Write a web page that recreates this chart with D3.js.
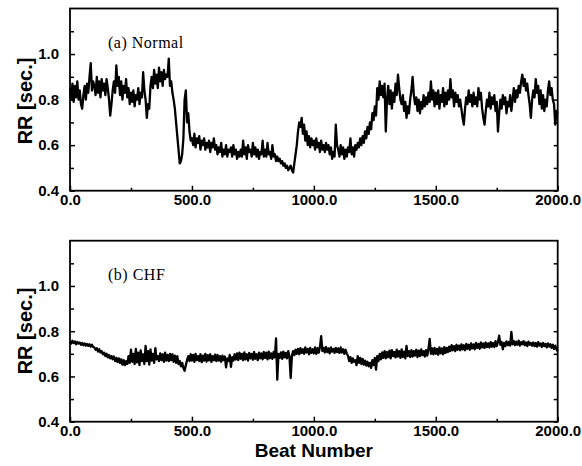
<!DOCTYPE html>
<html>
<head>
<meta charset="utf-8">
<script src="https://cdn.jsdelivr.net/npm/d3@7"></script>
<style>
  body { margin: 0; background: #fff; }
  svg { display: block; }
</style>
</head>
<body>
<svg id="chart" width="582" height="466"></svg>
<script>
// RR intervals (seconds), one sample every `beatStep` beats, beats 0..2000
const beatStep = 5;

const normalRR = [
  0.85,0.80,0.87,0.79,0.86,0.81,0.88,0.80,0.84,0.78,0.76,0.82,0.86,0.80,0.87,0.83,0.90,0.96,0.84,0.88,
  0.86,0.82,0.90,0.83,0.88,0.81,0.89,0.84,0.87,0.82,0.89,0.85,0.80,0.73,0.78,0.84,0.88,0.83,0.95,0.86,
  0.90,0.82,0.88,0.80,0.86,0.83,0.89,0.81,0.85,0.78,0.83,0.79,0.84,0.77,0.82,0.80,0.85,0.78,0.83,0.81,
  0.92,0.84,0.80,0.72,0.78,0.76,0.86,0.90,0.85,0.93,0.87,0.91,0.85,0.94,0.88,0.92,0.86,0.93,0.89,0.91,
  0.90,0.98,0.86,0.88,0.83,0.80,0.76,0.70,0.64,0.58,0.52,0.53,0.56,0.63,0.80,0.84,0.70,0.74,0.66,0.62,
  0.63,0.60,0.65,0.59,0.63,0.61,0.64,0.58,0.62,0.60,0.63,0.58,0.61,0.59,0.62,0.57,0.61,0.59,0.63,0.58,
  0.60,0.56,0.59,0.57,0.61,0.55,0.58,0.56,0.60,0.55,0.58,0.57,0.59,0.55,0.60,0.56,0.58,0.54,0.57,0.55,
  0.58,0.55,0.62,0.56,0.59,0.54,0.60,0.57,0.58,0.55,0.61,0.56,0.59,0.55,0.58,0.54,0.57,0.56,0.62,0.55,
  0.58,0.55,0.61,0.56,0.57,0.54,0.60,0.55,0.56,0.53,0.55,0.53,0.54,0.52,0.53,0.51,0.52,0.50,0.51,0.49,
  0.50,0.51,0.49,0.48,0.52,0.56,0.60,0.66,0.70,0.68,0.72,0.65,0.69,0.62,0.66,0.60,0.64,0.59,0.63,0.60,
  0.62,0.58,0.63,0.59,0.61,0.57,0.62,0.58,0.60,0.57,0.61,0.58,0.60,0.56,0.59,0.54,0.57,0.55,0.69,0.60,
  0.58,0.55,0.60,0.56,0.59,0.54,0.58,0.55,0.59,0.57,0.63,0.56,0.59,0.55,0.60,0.58,0.61,0.59,0.63,0.60,
  0.64,0.61,0.66,0.63,0.68,0.65,0.70,0.67,0.74,0.71,0.77,0.73,0.85,0.80,0.88,0.82,0.86,0.81,0.87,0.66,
  0.80,0.86,0.78,0.84,0.76,0.83,0.79,0.87,0.82,0.91,0.85,0.80,0.78,0.82,0.75,0.79,0.72,0.77,0.74,0.80,
  0.84,0.90,0.82,0.78,0.81,0.75,0.80,0.74,0.79,0.76,0.82,0.77,0.81,0.78,0.83,0.79,0.88,0.80,0.84,0.77,
  0.83,0.78,0.84,0.76,0.82,0.79,0.85,0.77,0.83,0.78,0.84,0.80,0.89,0.81,0.84,0.77,0.83,0.79,0.82,0.77,
  0.80,0.76,0.72,0.69,0.76,0.81,0.78,0.84,0.79,0.82,0.77,0.83,0.78,0.81,0.77,0.85,0.80,0.83,0.76,0.72,
  0.69,0.75,0.80,0.77,0.83,0.76,0.81,0.78,0.82,0.75,0.79,0.66,0.74,0.80,0.76,0.82,0.78,0.81,0.74,0.79,
  0.77,0.82,0.75,0.80,0.85,0.79,0.84,0.81,0.86,0.83,0.88,0.91,0.86,0.89,0.84,0.87,0.82,0.78,0.72,0.80,
  0.84,0.81,0.89,0.83,0.86,0.78,0.84,0.76,0.82,0.75,0.80,0.77,0.84,0.88,0.82,0.85,0.80,0.78,0.69,0.75,0.74
];

const chfRR = [
  0.755,0.745,0.758,0.748,0.755,0.742,0.752,0.745,0.750,0.740,0.748,0.738,0.746,0.736,0.744,0.735,0.742,0.732,0.740,0.730,
  0.728,0.718,0.725,0.710,0.720,0.706,0.712,0.698,0.705,0.690,0.700,0.684,0.695,0.680,0.690,0.676,0.688,0.668,0.682,0.664,
  0.680,0.660,0.676,0.652,0.672,0.650,0.668,0.655,0.690,0.660,0.718,0.665,0.700,0.655,0.722,0.662,0.705,0.650,0.715,0.668,
  0.698,0.655,0.735,0.668,0.712,0.652,0.720,0.670,0.700,0.660,0.725,0.675,0.690,0.668,0.702,0.672,0.698,0.665,0.705,0.670,
  0.695,0.668,0.700,0.672,0.698,0.665,0.692,0.660,0.690,0.655,0.668,0.645,0.660,0.638,0.625,0.650,0.672,0.690,0.668,0.698,
  0.670,0.695,0.665,0.700,0.672,0.690,0.668,0.698,0.663,0.692,0.670,0.700,0.666,0.694,0.671,0.698,0.664,0.690,0.672,0.696,
  0.668,0.695,0.670,0.690,0.665,0.692,0.672,0.688,0.640,0.680,0.668,0.695,0.642,0.685,0.670,0.698,0.675,0.702,0.672,0.705,
  0.678,0.700,0.672,0.706,0.676,0.698,0.670,0.704,0.680,0.700,0.674,0.708,0.678,0.698,0.672,0.705,0.680,0.702,0.676,0.708,
  0.682,0.705,0.676,0.710,0.680,0.702,0.678,0.708,0.684,0.768,0.586,0.700,0.682,0.706,0.678,0.710,0.684,0.704,0.680,0.712,
  0.688,0.593,0.690,0.712,0.694,0.718,0.700,0.722,0.698,0.725,0.704,0.720,0.700,0.728,0.706,0.722,0.698,0.726,0.704,0.720,
  0.702,0.728,0.700,0.725,0.705,0.730,0.778,0.712,0.726,0.706,0.730,0.708,0.724,0.702,0.728,0.710,0.722,0.704,0.726,0.708,
  0.724,0.704,0.728,0.706,0.720,0.700,0.718,0.702,0.690,0.668,0.685,0.660,0.680,0.665,0.672,0.650,0.690,0.660,0.682,0.655,
  0.678,0.652,0.670,0.648,0.665,0.645,0.660,0.638,0.672,0.650,0.682,0.630,0.690,0.668,0.700,0.676,0.706,0.682,0.712,0.680,
  0.708,0.685,0.714,0.680,0.716,0.690,0.708,0.684,0.718,0.688,0.712,0.682,0.720,0.686,0.710,0.680,0.735,0.690,0.712,0.686,
  0.716,0.688,0.712,0.692,0.718,0.686,0.714,0.690,0.720,0.694,0.712,0.688,0.716,0.692,0.722,0.766,0.700,0.724,0.698,0.726,
  0.700,0.722,0.696,0.728,0.702,0.724,0.698,0.730,0.704,0.726,0.708,0.732,0.712,0.738,0.716,0.734,0.712,0.740,0.718,0.736,
  0.716,0.742,0.720,0.738,0.716,0.744,0.722,0.740,0.718,0.746,0.724,0.742,0.720,0.748,0.726,0.744,0.722,0.750,0.728,0.746,
  0.726,0.750,0.730,0.746,0.728,0.752,0.732,0.748,0.730,0.756,0.734,0.752,0.780,0.740,0.752,0.720,0.748,0.734,0.755,0.738,
  0.752,0.736,0.797,0.742,0.756,0.738,0.754,0.740,0.758,0.736,0.752,0.742,0.756,0.738,0.750,0.734,0.754,0.740,0.748,0.736,
  0.750,0.734,0.748,0.732,0.752,0.736,0.746,0.730,0.748,0.734,0.744,0.728,0.746,0.732,0.742,0.726,0.740,0.722,0.736,0.720,0.712
];

const xMajorTicks = [0, 500, 1000, 1500, 2000];
const xMinorTicks = [250, 750, 1250, 1750];
const yMajorTicks = [0.4, 0.6, 0.8, 1.0];
const yMinorTicks = [0.5, 0.7, 0.9, 1.1];
const panelTitles = ["(a) Normal", "(b) CHF"];
const yAxisTitle = "RR [sec.]";
const xAxisTitle = "Beat Number";

const svg = d3.select("#chart");
const sansBold = "'Liberation Sans', Arial, Helvetica, sans-serif";
const serif = "'Liberation Serif', 'Times New Roman', Times, serif";

const plotLeft = 70, plotRight = 557.7;
const x = d3.scaleLinear().domain([0, 2000]).range([plotLeft, plotRight]);

const panels = [
  { title: panelTitles[0], data: normalRR, top: 8.5, bottom: 190.7, titleY: 47.5, yTitleY: 101 },
  { title: panelTitles[1], data: chfRR, top: 240.7, bottom: 421.7, titleY: 280, yTitleY: 331 }
];

panels.forEach(p => {
  const y = d3.scaleLinear().domain([0.4, 1.2]).range([p.bottom, p.top]);
  const g = svg.append("g");

  // trace
  const line = d3.line()
    .x((d, i) => x(i * beatStep))
    .y(d => y(d));
  g.append("path")
    .datum(p.data)
    .attr("d", line)
    .attr("fill", "none")
    .attr("stroke", "#000")
    .attr("stroke-width", 2.3)
    .attr("stroke-linejoin", "round");

  const styleAxis = sel => {
    sel.select(".domain").remove();
    sel.selectAll(".tick line").attr("stroke", "#000").attr("stroke-width", 1.5);
    sel.selectAll(".tick text")
      .attr("fill", "#000")
      .style("font-family", sansBold)
      .style("font-weight", "bold")
      .style("font-size", "15px");
  };

  // bottom axis, inward ticks
  g.append("g")
    .attr("transform", `translate(0,${p.bottom})`)
    .call(d3.axisBottom(x).tickValues(xMajorTicks).tickSize(-5).tickPadding(4)
      .tickFormat(d3.format(".1f")))
    .call(styleAxis);
  g.append("g")
    .attr("transform", `translate(0,${p.bottom})`)
    .call(d3.axisBottom(x).tickValues(xMinorTicks).tickSize(-3).tickFormat(""))
    .call(styleAxis);

  // left axis
  g.append("g")
    .attr("transform", `translate(${plotLeft},0)`)
    .call(d3.axisLeft(y).tickValues(yMajorTicks).tickSize(-5).tickPadding(11)
      .tickFormat(d3.format(".1f")))
    .call(styleAxis);
  g.append("g")
    .attr("transform", `translate(${plotLeft},0)`)
    .call(d3.axisLeft(y).tickValues(yMinorTicks).tickSize(-4).tickFormat(""))
    .call(styleAxis);

  // right axis, ticks only
  g.append("g")
    .attr("transform", `translate(${plotRight},0)`)
    .call(d3.axisRight(y).tickValues(yMajorTicks.concat(yMinorTicks)).tickSize(-4).tickFormat(""))
    .call(styleAxis);

  // frame
  g.append("rect")
    .attr("x", plotLeft).attr("y", p.top)
    .attr("width", plotRight - plotLeft).attr("height", p.bottom - p.top)
    .attr("fill", "none").attr("stroke", "#000").attr("stroke-width", 1.8);

  // panel title
  g.append("text")
    .attr("x", 108).attr("y", p.titleY)
    .style("font-family", serif)
    .style("font-size", "16px")
    .style("letter-spacing", "0.5px")
    .text(p.title);

  // y axis title
  g.append("text")
    .attr("transform", `translate(31.5,${p.yTitleY}) rotate(-90)`)
    .attr("text-anchor", "middle")
    .style("font-family", sansBold)
    .style("font-weight", "bold")
    .style("font-size", "20px")
    .text(yAxisTitle);
});

svg.append("text")
  .attr("x", (plotLeft + plotRight) / 2).attr("y", 457)
  .attr("text-anchor", "middle")
  .style("font-family", sansBold)
  .style("font-weight", "bold")
  .style("font-size", "19px")
  .text(xAxisTitle);
</script>
</body>
</html>
